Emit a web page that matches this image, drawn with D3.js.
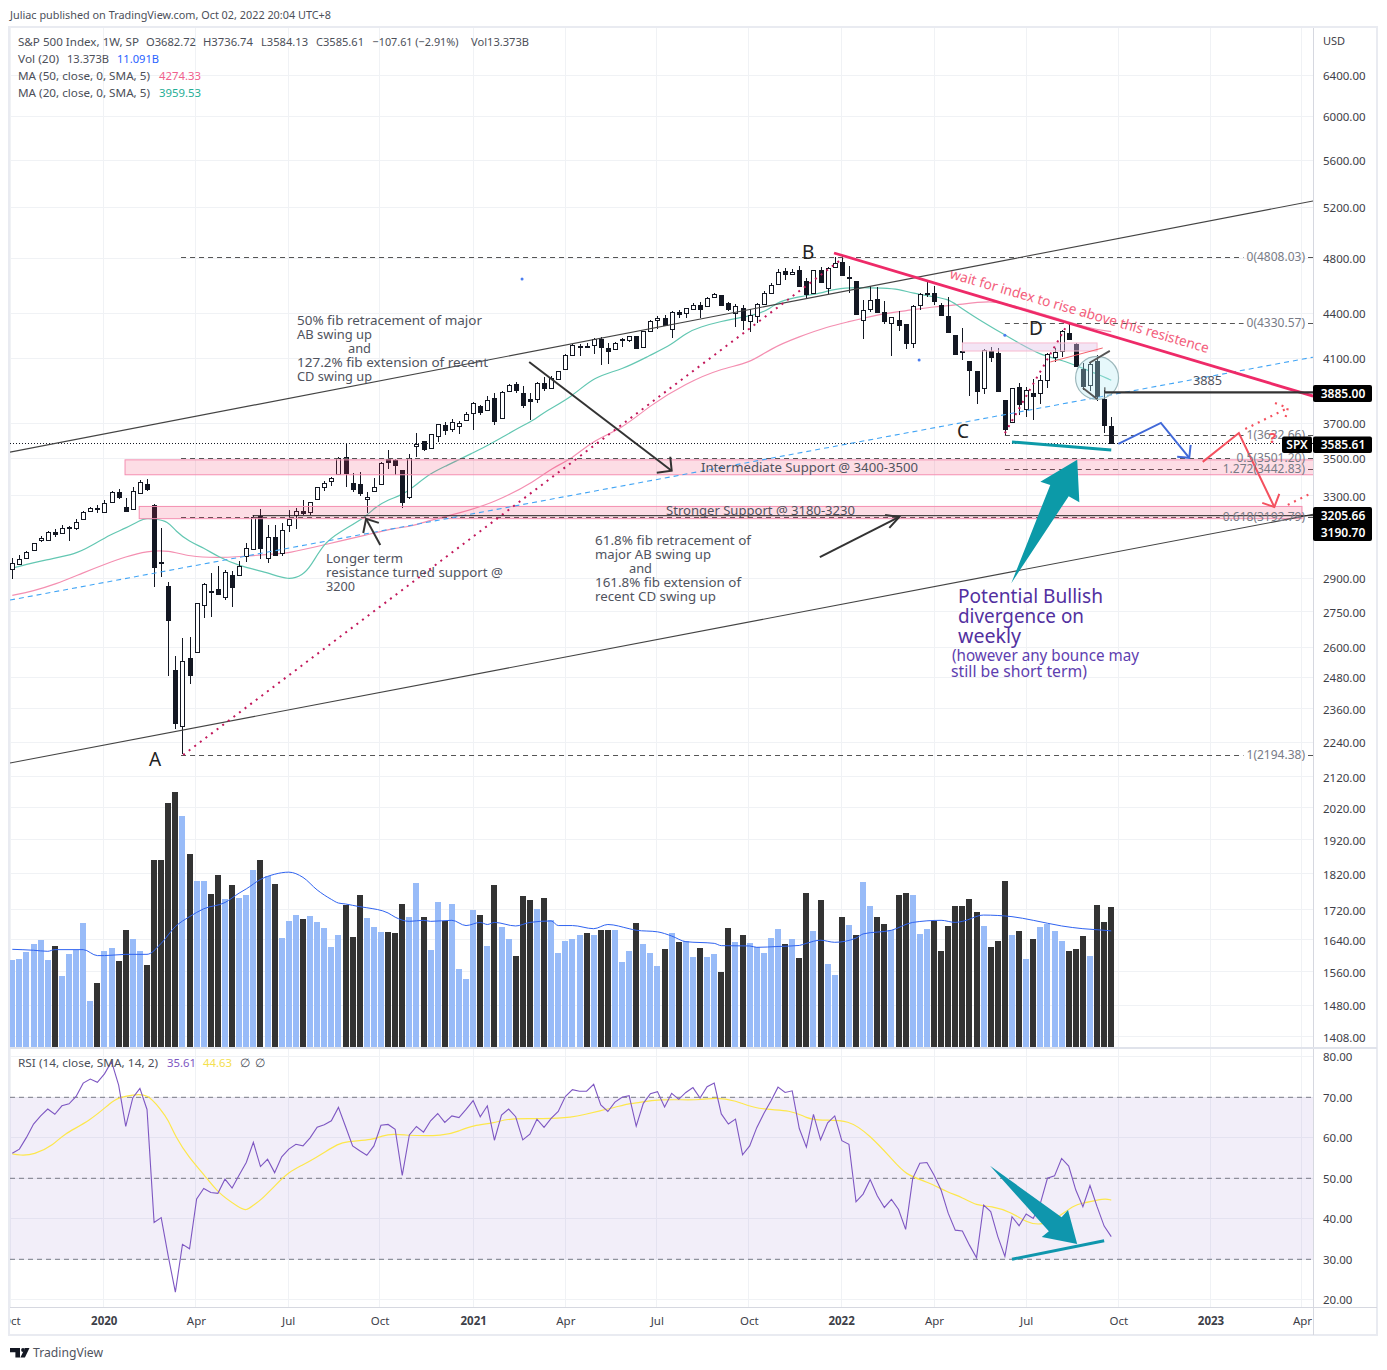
<!DOCTYPE html>
<html><head><meta charset="utf-8">
<script src="https://cdn.jsdelivr.net/npm/d3@7/dist/d3.min.js"></script>
<style>html,body{margin:0;padding:0;background:#fff}svg{display:block}text{font-family:"Noto Sans",sans-serif}</style>
</head><body><svg id="c" width="1387" height="1370"></svg>
<script>
// weekly S&P 500 candles
const high=[2994,3007,3026,3065,3097,3122,3134,3153,3147,3183,3225,3241,3251,3278,3325,3335,3290,3345,3384,3388,3258,3136,2883,2565,2637,2642,2790,2879,2924,2955,2939,2932,2979,3065,3204,3233,3154,3154,3163,3229,3238,3281,3269,3349,3380,3402,3508,3585,3420,3425,3320,3395,3480,3548,3497,3438,3525,3642,3598,3638,3696,3706,3726,3712,3765,3828,3811,3860,3880,3890,3935,3947,3925,3880,3951,3978,3983,4016,4124,4191,4189,4196,4233,4240,4196,4207,4230,4246,4246,4282,4354,4382,4386,4416,4423,4435,4470,4482,4517,4541,4527,4482,4463,4458,4428,4470,4558,4614,4721,4724,4716,4741,4651,4709,4729,4736,4806,4816,4741,4626,4494,4594,4584,4487,4377,4418,4324,4455,4541,4638,4594,4470,4512,4249,4302,4082,4017,4157,4170,4164,3839,3909,3940,3915,3965,3992,4132,4164,4285,4326,4198,4066,4066,4122,3900,3736.74];
const bodyTop=[2971,2986,3021,3065,3089,3117,3119,3138,3145,3168,3218,3238,3238,3264,3323,3320,3241,3325,3375,3364,3251,2976,2864,2507,2544,2557,2790,2875,2842,2850,2929,2915,2957,3041,3193,3199,3094,3092,3128,3183,3223,3223,3269,3345,3366,3393,3503,3508,3366,3361,3295,3345,3474,3495,3493,3435,3505,3580,3598,3638,3696,3690,3708,3702,3755,3820,3803,3838,3850,3886,3929,3935,3880,3842,3941,3941,3972,4016,4122,4183,4176,4181,4227,4227,4165,4196,4223,4242,4242,4280,4345,4366,4366,4407,4409,4435,4460,4455,4505,4536,4527,4472,4448,4435,4386,4467,4541,4599,4694,4704,4696,4711,4626,4709,4709,4724,4761,4773,4655,4626,4425,4496,4498,4407,4377,4352,4324,4453,4539,4541,4541,4455,4379,4249,4144,4080,4015,4153,4147,4132,3839,3909,3917,3899,3880,3960,4125,4138,4276,4263,4194,4028,4060,4080,3847,3682.72];
const bodyBottom=[2943,2966,2994,3030,3078,3078,3109,3114,3142,3138,3183,3223,3233,3218,3269,3293,3221,3233,3315,3335,2952,2969,2713,2308,2296,2489,2580,2781,2835,2828,2816,2860,2915,3002,3036,3041,2994,3007,3016,3151,3203,3211,3216,3283,3349,3377,3415,3424,3335,3315,3285,3328,3361,3480,3464,3269,3293,3572,3551,3560,3629,3659,3669,3682,3718,3761,3765,3779,3712,3730,3892,3902,3807,3834,3842,3910,3910,3966,4029,4118,4170,4176,4185,4170,4148,4161,4216,4219,4164,4171,4282,4352,4322,4291,4393,4400,4430,4432,4448,4512,4455,4428,4400,4354,4345,4379,4463,4546,4604,4680,4684,4592,4534,4541,4619,4582,4731,4672,4648,4393,4352,4428,4412,4345,4331,4322,4197,4197,4455,4534,4484,4386,4269,4125,4138,4023,3895,3913,4104,3895,3669,3709,3817,3783,3860,3880,3960,4106,4149,4224,4051,3925,3927,3865,3688,3585.61];
const low=[2897,2966,2994,3026,3070,3078,3094,3111,3073,3127,3180,3223,3213,3218,3269,3285,3216,3233,3315,3328,2860,2904,2484,2285,2197,2453,2580,2724,2728,2824,2802,2771,2915,2974,3033,2989,2969,3005,3002,3117,3134,3204,3204,3283,3328,3354,3415,3349,3318,3298,3213,3323,3357,3441,3413,3236,3285,3510,3544,3557,3594,3634,3648,3636,3718,3661,3751,3779,3692,3730,3892,3882,3788,3722,3820,3890,3908,3966,4029,4118,4115,4174,4124,4058,4060,4161,4172,4204,4164,4171,4275,4291,4313,4235,4370,4370,4430,4366,4448,4512,4455,4418,4308,4286,4275,4331,4455,4541,4604,4633,4680,4590,4498,4534,4614,4534,4724,4668,4541,4393,4223,4412,4405,4327,4116,4282,4158,4164,4423,4512,4455,4386,4269,4125,4085,3860,3812,3875,4074,3895,3632,3709,3749,3739,3720,3816,3913,4078,4106,4224,4051,3899,3895,3835,3646,3584.13];
const direction=["UUUUUU","D","UUUUU","D","UU","DD","UU","DDDDD","U","D","UU","DD","U","D","UUU","D","U","D","UUU","D","UUUUU","DDD","UUU","DDD","UU","D","UU","D","UUUU","D","U","D","UU","DDD","U","D","UUUUU","D","U","DD","UUU","D","UUU","D","U","D","UU","D","UU","DD","U","D","UUUUU","D","U","DD","U","D","UU","D","U","D","UU","DD","U","DD","UUU","DDDDDDD","U","DDD","U","D","U","D","UUUU","DDD","U","DDD"].join("");
const volumes=[8.31,8.41,9.08,9.84,10.22,8.31,9.65,6.78,8.89,9.24,11.85,4.39,6.11,9.17,9.46,8.22,11.18,10.32,9.17,7.83,17.87,17.87,23.31,24.36,22.07,18.44,15.86,15.86,14.62,16.43,14.14,15.48,14.24,14.52,16.91,17.87,16.34,15.57,10.41,12.04,12.61,12.23,12.52,11.94,11.37,9.55,10.7,13.57,10.51,14.52,12.32,11.46,10.99,10.99,10.89,13.66,12.42,15.67,12.42,9.27,13.85,12.04,13.66,7.45,6.5,13.09,12.61,9.65,15.48,11.46,10.32,8.69,14.43,14.04,13.18,14.24,12.13,8.98,10.13,10.32,10.7,10.89,10.7,11.18,11.18,11.18,8.12,9.17,11.85,9.84,8.98,7.74,9.36,10.89,10.03,10.13,8.6,9.46,8.6,8.89,7.17,11.37,10.03,10.7,9.94,9.55,8.98,10.41,11.27,9.84,10.32,8.5,14.71,11.08,14.04,7.93,6.88,12.42,11.66,10.7,15.76,13.47,12.42,11.75,11.18,14.52,14.71,14.52,10.8,11.27,12.04,9.17,11.56,13.47,13.47,14.14,12.9,11.56,9.55,10.13,15.86,10.7,11.08,8.41,10.32,11.46,11.75,11.08,10.13,9.17,9.36,10.61,8.69,13.57,11.94,13.373];
const volumeMA=[[0,9.33],[3,9.24],[5,9.14],[6,9.3],[10,9.3],[12,8.73],[13,8.73],[16,8.85],[19,8.85],[21,9.9],[23,11.5],[25,12.45],[27,13.2],[30,13.8],[32,14.7],[33,15.1],[35,16],[37,16.5],[39,16.7],[41,16.2],[43,15],[45,14.1],[46,13.75],[47,13.66],[49,13.4],[50,13.3],[53,12.8],[54,12.4],[56,12],[58,12.1],[59,12],[62,12.1],[64,11.6],[66,11.9],[67,11.7],[68,11.9],[71,11.56],[73,11.9],[76,12.04],[77,11.6],[79,11.6],[82,11.3],[84,11.7],[87,11.3],[88,11.15],[91,11],[93,10.6],[95,10.06],[99,9.9],[100,9.68],[104,9.65],[105,9.52],[108,9.6],[111,9.7],[112,9.9],[114,10.2],[116,10],[119,10.4],[120,10.8],[124,11.15],[127,11.9],[131,12.1],[133,11.9],[134,12],[137,12.6],[141,12.45],[144,12.1],[148,11.56],[151,11.3],[153,11.2],[155,11.091]];
const ma20=[[0,2946],[5,2986],[9,3012],[11,3048],[14,3109],[16,3136],[18,3176],[19,3186],[20,3183],[22,3171],[23,3122],[25,3070],[27,3041],[29,2999],[32,2955],[36,2926],[39,2888],[41,2915],[42,2950],[44,3065],[46,3114],[50,3196],[51,3238],[53,3281],[55,3304],[57,3360],[59,3420],[61,3456],[65,3533],[67,3570],[71,3665],[74,3728],[75,3767],[79,3858],[82,3983],[86,4025],[90,4120],[93,4186],[95,4266],[97,4306],[100,4345],[103,4373],[105,4391],[107,4435],[108,4482],[111,4517],[114,4541],[116,4572],[119,4584],[123,4577],[125,4570],[127,4541],[130,4517],[132,4498],[133,4465],[136,4365],[140,4252],[142,4197],[145,4120],[148,4088],[151,4035],[153,3999],[155,3959.53]];
const ma50=[[0,2822],[3,2842],[6,2870],[10,2924],[13,2963],[16,2999],[19,3026],[22,3030],[25,2999],[29,2994],[32,2999],[36,3010],[39,3015],[44,3056],[50,3104],[54,3138],[56,3143],[59,3176],[63,3212],[68,3264],[74,3384],[76,3446],[79,3500],[82,3604],[86,3668],[90,3808],[95,3940],[100,4035],[104,4066],[107,4164],[111,4241],[115,4308],[118,4342],[120,4365],[123,4400],[127,4423],[130,4446],[133,4455],[138,4493],[142,4446],[148,4354],[152,4297],[155,4274.33]];
const rsi=[56.2,57.2,60.1,63.4,65.4,67.1,65.8,67.9,68.4,70.2,73.5,74.5,73.7,75.8,78.8,73,62.8,69.9,72.2,67,39.1,40.3,30.7,21.9,33.7,32.6,44.9,47.5,46.5,46.3,49.8,47.6,50.8,53.9,58.9,52.9,54.7,51.4,55.3,57.2,58.4,58,60,62.6,63.2,64.2,67.5,62.8,58,56.8,55.7,58,63.1,63.3,62.1,50.7,60.7,62.8,61.4,64.2,66,63.8,65.4,65,67,69.2,65.2,67.9,59.4,65.6,67.1,65.2,59.5,60.9,64.6,62.6,64.8,66.5,70.2,71.9,71.5,71.5,73.2,68.1,66.5,68.8,70,70.4,62.9,68.5,70.9,71.4,67.6,71,69.5,71.2,72.4,69.8,72.6,73.5,65.9,63.4,64.6,55.8,58,62.5,66,69.1,72.5,71.2,71.6,62.3,57.7,65.8,59.5,63.7,65.4,59.3,58.4,44.2,46.1,49.7,45.7,42.8,44.8,42.3,37.4,50,53.7,53.9,50.8,47.1,41.4,37.2,37,33.5,30.4,43.4,41.8,35.6,30.7,40.5,38.3,41.2,40.1,43.8,50,50.6,54.9,53,47.1,43,48.2,43,38.2,35.61];
const rsiMA=[[0,56],[1,55.7],[3,55.7],[6,58.4],[7,60.7],[11,64.2],[14,68.9],[15,69.9],[17,70.6],[19,71],[21,66.9],[22,64.4],[23,60.3],[25,54.9],[27,51.1],[29,46.3],[32,42.8],[33,41.9],[34,43.4],[35,44.5],[37,48.1],[39,51.6],[41,53.3],[43,55.3],[44,56.4],[46,58.5],[47,59.1],[51,59.5],[52,60.5],[54,61],[55,60.6],[61,60.4],[63,61.7],[65,63.1],[68,63.6],[70,64.9],[75,64.6],[79,65],[81,65.9],[83,66.7],[85,67.5],[87,68.5],[88,68.5],[91,69.6],[97,69.2],[99,70],[102,69.3],[105,66.9],[110,66.9],[112,64.8],[114,64.2],[118,64.6],[121,60.5],[124,54.9],[126,50.8],[129,49.2],[132,46.5],[134,45.3],[136,43.2],[138,43.2],[141,41.6],[143,39.1],[145,38.4],[147,39.7],[150,43.7],[151,43.8],[154,45.1],[155,44.63]];
// axes
const priceTicks=[6400,6000,5600,5200,4800,4400,4100,3700,3500,3300,2900,2750,2600,2480,2360,2240,2120,2020,1920,1820,1720,1640,1560,1480,1408];
const rsiTicks=[80,70,60,50,40,30,20];
const timeWeeks=[-0.2,12.9,25.9,38.9,51.8,65,78,90.9,103.9,116.9,130,143,156,169,181.9];
const timeLabels=["Oct","2020","Apr","Jul","Oct","2021","Apr","Jul","Oct","2022","Apr","Jul","Oct","2023","Apr"];
// drawings in [week, price]
const channelUpper=[[-0.32,3536],[183.46,5251]];
const channelLower=[[-0.32,2167],[183.46,3205.66]];
const blueDashed=[[-0.32,2801],[183.46,4106]];
const dottedAB=[[24.1,2195],[117.2,4800]];
const dottedCD=[[140,3643],[148.9,4330]];
const resistance=[[115.9,4838],[183.46,3862]];
const level3885=[[154.1,3885],[183.46,3885]];
const level3199=[[33.9,3199],[183.46,3199]];
const zones=[{w0:15.9,w1:183.6,p0:3493,p1:3412},{w0:17.9,w1:181.9,p0:3246,p1:3184}];
const lilacZone={w0:134,w1:153,p0:4199,p1:4146};
const fibs=[{p:4808.03,w:23.8,t:"0(4808.03)"},{p:2194.38,w:23.8,t:"1(2194.38)"},{p:3501.2,w:23.8,t:"0.5(3501.20)"},{p:3192.79,w:23.8,t:"0.618(3192.79)"},{p:4330.57,w:140,t:"0(4330.57)"},{p:3632.66,w:140,t:"1(3632.66)"},{p:3442.83,w:140,t:"1.272(3442.83)"}];
const arrowDark=[[[72.9,4075],[93,3434]],[[90.9,3423],[93,3434],[92.8,3510]],[[113.9,2997],[125.1,3193]],[[123.1,3203],[125.1,3193],[123.7,3138]],[[51.9,3055],[49.9,3183]],[[51.7,3163],[49.9,3183],[49.5,3113]]];
const pathBlue=[[[156,3582],[162,3702],[166,3504]],[[164.3,3510],[166,3504],[166.2,3576]]];
const pathRed=[[[167.9,3482],[173,3644],[178,3243]],[[176.3,3264],[178,3243],[178.7,3311]]];
const dottedRed=[[[173.9,3667],[179.9,3790]],[[178.1,3820],[179.9,3790],[179.5,3719]],[[179.9,3254],[183.3,3316]]];
const tealBar=[[141,3593],[155,3548]];
const tealArrow=[[140.9,2876],[146.4,3358],[145,3374],[150.2,3493],[150.5,3267],[149,3299]];
const circleCentre=[153,3974];
const darkWedge=[[[151,3911],[153,3844]],[[151.9,4069],[154.8,4147]]];
const salmonLine=[[146.4,4075],[153.8,4166]];
const blueDots=[[71.9,4644],[127.9,4088],[140,4251]];
const rsiArrow=[[137.9,53.1],[148,40.4],[148.9,42.2],[150.2,33.8],[145.2,35.5],[146.2,36.9]];
const rsiBar=[[141,30],[154,34.6]];

const svg=d3.select("#c");
const L=10,R=1313,T=28,PB=1048,RB=1307,FB=1335;
const x=d3.scaleLinear().domain([0,155]).range([12.3,1111.25]);
const y=d3.scaleLog().domain([2240,4800]).range([742,258]);
const yV=d3.scaleLinear().domain([0,25]).range([1047,785.25]);
const yR=d3.scaleLinear().domain([20,80]).range([1299.8,1056.8]);
const defs=svg.append("defs");
defs.append("clipPath").attr("id","pane").append("rect").attr("x",L).attr("y",T).attr("width",R-L).attr("height",PB-T);
defs.append("clipPath").attr("id","rpane").append("rect").attr("x",L).attr("y",PB).attr("width",R-L).attr("height",RB-PB);
defs.append("clipPath").attr("id","tpane").append("rect").attr("x",L).attr("y",RB).attr("width",R-L).attr("height",FB-RB);
const P=([w,p])=>[x(w),y(p)];
const PR=([w,v])=>[x(w),yR(v)];
const line=d3.line();
const smooth=(sx,sy,c)=>d3.line().x(d=>sx(d[0])).y(d=>sy(d[1])).curve(c||d3.curveBasis);

function txt(g,s,px,py,o={}){const t=g.append("text").attr("x",px).attr("y",py).text(s)
 .attr("font-size",o.size||11.5).attr("fill",o.fill||"#4c4f59");
 if(o.anchor)t.attr("text-anchor",o.anchor); if(o.weight)t.attr("font-weight",o.weight);
 if(o.len)t.attr("textLength",o.len).attr("lengthAdjust","spacingAndGlyphs");
 if(o.rot)t.attr("transform",`rotate(${o.rot} ${px} ${py})`); if(o.family)t.style("font-family",o.family);
 return t;}

// grid
const grid=svg.append("g").attr("stroke","#f0f2f5").attr("stroke-width",1).attr("shape-rendering","crispEdges");
priceTicks.forEach(p=>grid.append("line").attr("x1",L).attr("x2",R).attr("y1",y(p)).attr("y2",y(p)));
rsiTicks.forEach(v=>grid.append("line").attr("x1",L).attr("x2",R).attr("y1",yR(v)).attr("y2",yR(v)));
timeWeeks.forEach(w=>grid.append("line").attr("x1",x(w)).attr("x2",x(w)).attr("y1",T).attr("y2",RB));

const pane=svg.append("g").attr("clip-path","url(#pane)");
// volume
pane.append("g").selectAll("rect").data(volumes).join("rect")
 .attr("x",(d,i)=>Math.round(x(i))-3).attr("width",6).attr("y",d=>yV(d)).attr("height",d=>yV(0)-yV(d))
 .attr("fill",(d,i)=>direction[i]==="U"?"#98bbf8":"#333333").attr("shape-rendering","crispEdges");
pane.append("path").attr("d",smooth(x,yV,d3.curveMonotoneX)(volumeMA)).attr("fill","none").attr("stroke","#2f63f0").attr("stroke-width",1);
// moving averages
pane.append("path").attr("d",smooth(x,y)(ma50)).attr("fill","none").attr("stroke","#f48fb1").attr("stroke-width",1.2);
pane.append("path").attr("d",smooth(x,y)(ma20)).attr("fill","none").attr("stroke","#63c7b2").attr("stroke-width",1.2);
// last price
pane.append("line").attr("x1",L).attr("x2",R).attr("y1",Math.round(y(3585.61))+.5).attr("y2",Math.round(y(3585.61))+.5).attr("stroke","#131722").attr("stroke-dasharray","1 2");
// candles
const cg=pane.append("g").attr("shape-rendering","crispEdges");
high.forEach((h,i)=>{const c=Math.round(x(i))+.5,up=direction[i]==="U";
 cg.append("line").attr("x1",c).attr("x2",c).attr("y1",y(h)).attr("y2",y(low[i])).attr("stroke","#131722");
 const t=Math.round(y(bodyTop[i]))+.5,b=Math.max(Math.round(y(bodyBottom[i]))+.5,t+1);
 cg.append("rect").attr("x",c-2).attr("width",4).attr("y",t).attr("height",b-t).attr("fill",up?"#fff":"#131722").attr("stroke","#131722");
});
const fibG=pane.append("g");
// zones
zones.forEach(z=>pane.append("rect").attr("x",x(z.w0)).attr("width",x(z.w1)-x(z.w0)).attr("y",y(z.p0)).attr("height",y(z.p1)-y(z.p0)).attr("fill","rgba(242,54,100,.17)").attr("stroke","#f48fb1").attr("stroke-width",1));
pane.append("rect").attr("x",x(lilacZone.w0)).attr("width",x(lilacZone.w1)-x(lilacZone.w0)).attr("y",y(lilacZone.p0)).attr("height",y(lilacZone.p1)-y(lilacZone.p0)).attr("fill","rgba(225,190,231,.4)").attr("stroke","#f8bbd0");
// lines
const lineOf=(pts,stroke,w,dash,g=pane,f=P)=>{const e=g.append("path").attr("d",line(pts.map(f))).attr("fill","none").attr("stroke",stroke).attr("stroke-width",w);if(dash)e.attr("stroke-dasharray",dash);return e;};
lineOf(channelUpper,"#444",1.1);
lineOf(channelLower,"#444",1.1);
lineOf(blueDashed,"#42a5f5",1.1,"5 4");
lineOf(dottedAB,"#c2185b",2,"2 5");
lineOf(dottedCD,"#c2185b",2,"2 5");
lineOf(level3199,"#222",1);
// circle and wedge
pane.append("circle").attr("cx",x(circleCentre[0])).attr("cy",y(circleCentre[1])).attr("r",21.5).attr("fill","rgba(178,235,242,.33)").attr("stroke","#9db8bc").attr("stroke-width",1.2);
darkWedge.forEach(s=>lineOf(s,"#555",1.8));
lineOf(salmonLine,"#f4606c",1);
// arrows
arrowDark.forEach(s=>lineOf(s,"#333",2));
pathBlue.forEach(s=>lineOf(s,"#4169d8",2));
pathRed.forEach(s=>lineOf(s,"#f4515f",2));
dottedRed.forEach(s=>lineOf(s,"#f4515f",2.2,"2 5"));
lineOf(resistance,"#ee2a68",2.8);
lineOf(level3885,"#333",2.2);
pane.append("line").attr("x1",x(154.1)).attr("x2",x(154.1)).attr("y1",y(3885)-5).attr("y2",y(3885)).attr("stroke","#333");
lineOf(tealBar,"#0c9aa8",3);
pane.append("path").attr("d",line(tealArrow.map(P))+"Z").attr("fill","#0c9aa8");
pane.append("g").selectAll("circle").data(blueDots).join("circle").attr("cx",d=>x(d[0])).attr("cy",d=>y(d[1])).attr("r",1.5).attr("fill","#4a7df0");
// fib drawing
fibs.forEach(f=>{const t=txt(pane,f.t,1305,y(f.p)+4,{anchor:"end",fill:"#787b86",size:12});
 const len=t.node().getComputedTextLength(),e=1305-len-3,yy=Math.round(y(f.p))+.5;
 [[x(f.w),e],[1308,R]].forEach(([a,b])=>fibG.append("line").attr("x1",a).attr("x2",b).attr("y1",yy).attr("y2",yy).attr("stroke","#555").attr("stroke-dasharray","5 4"));
});
// annotation text
const A=pane.append("g");
const fText="#50535e",aS=13;
[["50% fib retracement of major",297,325,185],["AB swing up",297,339,75],["and",348,353,23],["127.2% fib extension of recent",297,367,191],["CD swing up",297,381,75],
 ["Longer term",326,563,77],["resistance turned support @",326,577,177],["3200",326,591,29],
 ["61.8% fib retracement of",595,545,156],["major AB swing up",595,559,116],["and",629,573,23],["161.8% fib extension of",595,587,146],["recent CD swing up",595,601,121]
].forEach(a=>txt(A,a[0],a[1],a[2],{size:aS,fill:fText,len:a[3]}));
txt(A,"Intermediate Support @ 3400-3500",701,472,{size:aS,fill:fText,len:217});
txt(A,"Stronger Support @ 3180-3230",666,515,{size:aS,fill:fText,len:189});
txt(A,"3885",1193,385,{size:13,fill:fText,len:29});
txt(A,"wait for index to rise above this resistence",949,278,{size:14,fill:"#f3607c",len:269,rot:16.2});
const mark={size:19,fill:"#222"};
txt(A,"B",802,259,mark);txt(A,"A",149,766,mark);txt(A,"C",957,438,mark);txt(A,"D",1029,335,mark);
txt(A,"?",1269,443,{size:15,fill:"#f4515f",weight:700});
const purple="#5230a0";
txt(A,"Potential Bullish",958,603,{size:20,fill:purple,len:145});
txt(A,"divergence on",958,623,{size:20,fill:purple,len:126});
txt(A,"weekly",958,643,{size:20,fill:purple,len:63});
txt(A,"(however any bounce may",952,661,{size:15.5,fill:"#5e3eb0",len:187});
txt(A,"still be short term)",951,677,{size:15.5,fill:"#5e3eb0",len:136});

// RSI pane
const rp=svg.append("g").attr("clip-path","url(#rpane)");
rp.append("rect").attr("x",L).attr("width",R-L).attr("y",yR(70)).attr("height",yR(30)-yR(70)).attr("fill","rgba(126,87,194,.1)");
[70,50,30].forEach(v=>rp.append("line").attr("x1",L).attr("x2",R).attr("y1",yR(v)).attr("y2",yR(v)).attr("stroke","#787b86").attr("stroke-dasharray","5 4"));
rp.append("path").attr("d",smooth(x,yR)(rsiMA)).attr("fill","none").attr("stroke","#fde74c").attr("stroke-width",1.2);
rp.append("path").attr("d",d3.line().x((d,i)=>x(i)).y(d=>yR(d))(rsi)).attr("fill","none").attr("stroke","#7e57c2").attr("stroke-width",1.1);
rp.append("path").attr("d",line(rsiArrow.map(PR))+"Z").attr("fill","#0f96ad");
lineOf(rsiBar,"#0f96ad",3,null,rp,PR);

// axes
const axP=svg.append("g").attr("transform",`translate(${R},0.7)`).call(d3.axisRight(y).tickValues(priceTicks).tickFormat(d3.format(".2f")).tickSize(0).tickPadding(10));
const axR=svg.append("g").attr("transform",`translate(${R},0.3)`).call(d3.axisRight(yR).tickValues(rsiTicks).tickFormat(d3.format(".2f")).tickSize(0).tickPadding(10));
const axT=svg.append("g").attr("clip-path","url(#tpane)").append("g").attr("transform",`translate(0,${RB})`).call(d3.axisBottom(x).tickValues(timeWeeks).tickFormat((d,i)=>timeLabels[i]).tickSize(0).tickPadding(10));
[axP,axR,axT].forEach(a=>{a.select(".domain").remove();a.selectAll("text").attr("font-size",11.5).attr("fill","#3d4048").style("font-family",'"Noto Sans",sans-serif');});
axT.selectAll("text").attr("font-weight",(d,i)=>/^20/.test(timeLabels[i])?700:400);
svg.append("text").attr("x",1323).attr("y",45).text("USD").attr("font-size",11).attr("fill","#3d4048");

// frame
const fr=svg.append("g").attr("shape-rendering","crispEdges").attr("fill","none");
fr.append("rect").attr("x",L-1).attr("y",T-1).attr("width",1377-L+1).attr("height",FB-T+1).attr("stroke","#e9ebf1").attr("stroke-width",2);
fr.append("line").attr("x1",R).attr("x2",R).attr("y1",T).attr("y2",FB).attr("stroke","#d6d8e0");
fr.append("line").attr("x1",L).attr("x2",1377).attr("y1",RB).attr("y2",RB).attr("stroke","#d6d8e0");
fr.append("line").attr("x1",L).attr("x2",1377).attr("y1",PB).attr("y2",PB).attr("stroke","#e0e3eb").attr("stroke-width",2);

// price tags
function tag(px,py,w,h){const g=svg.append("g");g.append("rect").attr("x",px).attr("y",py).attr("width",w).attr("height",h).attr("rx",2).attr("fill","#000");return g;}
const tw=(g,s,px,py)=>txt(g,s,px,py,{size:12,fill:"#fff",weight:600,anchor:"middle"});
tw(tag(1313,385,59,17),"3885.00",1343,398);
tw(tag(1282,436.5,30,16.5),"SPX",1297,449);
tw(tag(1313,436.5,59,16.5),"3585.61",1343,449);
const g2=tag(1313,507,59,34);tw(g2,"3205.66",1343,520);tw(g2,"3190.70",1343,537);

// legend
const lg=svg.append("g");
txt(lg,"Juliac published on TradingView.com, Oct 02, 2022 20:04 UTC+8",10,19,{len:321});
[["S&P 500 Index, 1W, SP",18,121],["O3682.72",146,50],["H3736.74",203,50],["L3584.13",261,47],["C3585.61",316,48],["\u2212107.61 (\u22122.91%)",372.5,86],["Vol13.373B",471,58]].forEach(a=>txt(lg,a[0],a[1],46,{len:a[2]}));
txt(lg,"Vol (20)",18,63,{len:41});txt(lg,"13.373B",67,63,{len:42});txt(lg,"11.091B",117,63,{len:42,fill:"#2962ff"});
txt(lg,"MA (50, close, 0, SMA, 5)",18,80,{len:132});txt(lg,"4274.33",159,80,{len:42,fill:"#f0608c"});
txt(lg,"MA (20, close, 0, SMA, 5)",18,97,{len:132});txt(lg,"3959.53",159,97,{len:42,fill:"#1fae96"});
txt(lg,"RSI (14, close, SMA, 14, 2)",18,1067,{len:140});txt(lg,"35.61",167,1067,{len:29,fill:"#7e57c2"});txt(lg,"44.63",203,1067,{len:29,fill:"#f4e04d"});txt(lg,"\u2205",240,1067);txt(lg,"\u2205",255,1067);

// logo
const lo=svg.append("g").attr("fill","#131722");
lo.append("path").attr("d","M10 1348h10v9.5h-4.6v-5.2H10z");
lo.append("circle").attr("cx",23).attr("cy",1350).attr("r",1.9);
lo.append("path").attr("d","M29.5 1348l-4.6 9.5h-4.5l3.4-7h0.6l0.2-2.5z");
txt(lg,"TradingView",33,1357,{size:13,fill:"#50535e",len:70});
</script></body></html>
